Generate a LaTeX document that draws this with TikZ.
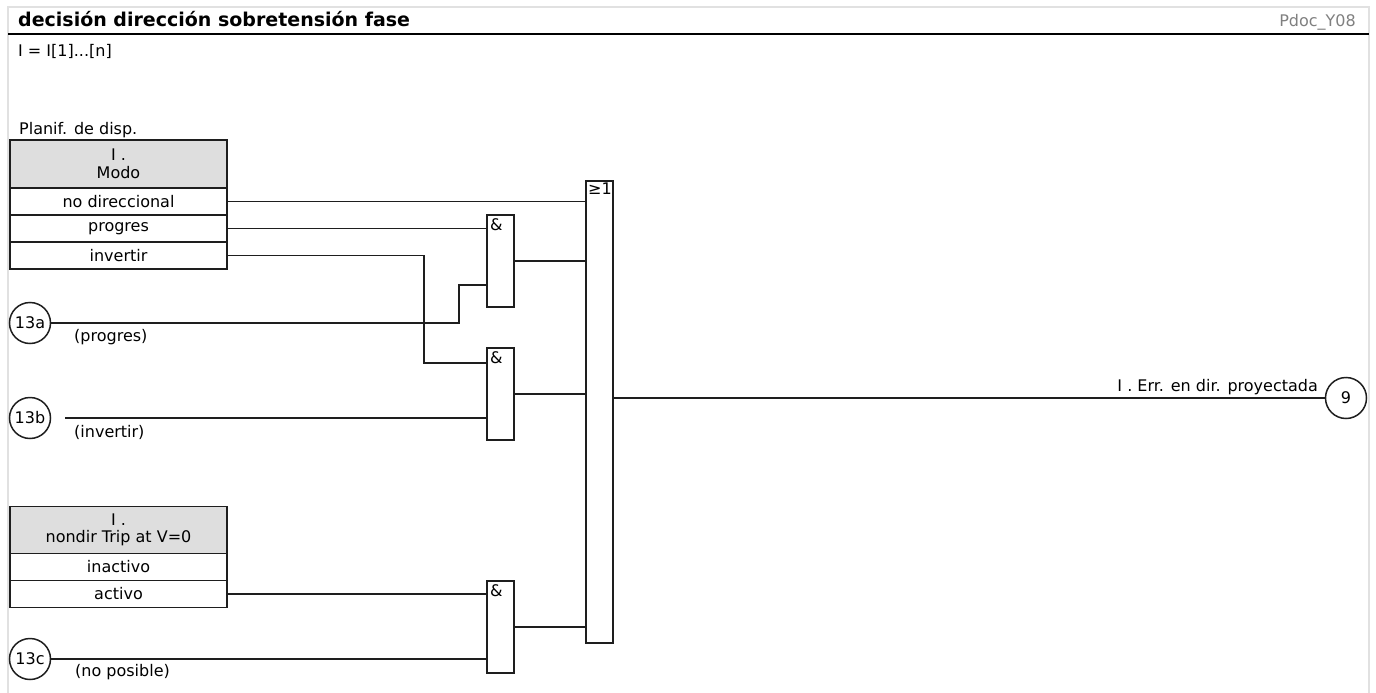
\documentclass[tikz,border=0pt]{standalone}
\usepackage{fontspec}
\setmainfont{DejaVu Sans}
\usetikzlibrary{calc}
\definecolor{hdrgray}{RGB}{222,222,222}
\definecolor{framegray}{RGB}{225,225,225}
\definecolor{wire}{RGB}{30,30,30}
\begin{document}
\begin{tikzpicture}[x=1pt,y=-1pt,
  every node/.style={font=\fontsize{16}{18.5}\selectfont, inner sep=0pt},
  hdr/.style={draw=wire, fill=hdrgray, line width=1.5pt, outer sep=0pt, minimum width=217pt, align=center},
  rowbox/.style={draw=wire, fill=white, line width=1.5pt, outer sep=0pt, minimum width=217pt, minimum height=27pt},
  gatebox/.style={draw=wire, line width=1.5pt, outer sep=0pt, minimum width=27pt},
  gatelbl/.style={anchor=north west, inner sep=3pt},
  conn/.style={draw=wire, line width=1.5pt},
  ref/.style={draw=wire, circle, line width=1.5pt, outer sep=0pt, minimum size=41pt},
  sublbl/.style={anchor=west}
]
\useasboundingbox (0,0) rectangle (1376,693);
% frame
\draw[framegray, line width=1.5pt] (8,693) -- (8,7) -- (1369,7) -- (1369,693);
\draw[black, line width=2.2pt] (8,34) -- (1369,34);
\node[anchor=base west, font=\bfseries\fontsize{19}{22}\selectfont] (title) at (18,27) {decisión dirección sobretensión fase};
\node[anchor=base east, text=gray] (pdoc) at (1356,27) {Pdoc\_Y08};
\node[anchor=base west] (idx) at (18,57) {I = I[1]...[n]};
\node[anchor=west] (planif) at (19,130) {Planif. de disp.};

% Modo box
\node[hdr, minimum height=48pt] (mh) at (118.5,164) {I .\\[-1pt]Modo};
\node[rowbox, anchor=north] (r1) at (mh.south) {no direccional};
\node[rowbox, anchor=north] (r2) at (r1.south) {progres};
\node[rowbox, anchor=north] (r3) at (r2.south) {invertir};

% nondir box
\node[hdr, minimum height=47pt] (nh) at (118.5,530) {I .\\[-1pt]nondir Trip at V=0};
\node[rowbox, anchor=north] (r5) at (nh.south) {inactivo};
\node[rowbox, anchor=north] (r6) at (r5.south) {activo};

% gates
\node[gatebox, minimum height=462pt] (or) at (599.5,412) {};
\node[gatelbl, inner sep=2pt] (orl) at (or.north west) {≥1};
\node[gatebox, minimum height=92pt] (and1) at (500.5,261) {};
\node[gatelbl] (and1l) at (and1.north west) {\&};
\node[gatebox, minimum height=92pt] (and2) at (500.5,394) {};
\node[gatelbl] (and2l) at (and2.north west) {\&};
\node[gatebox, minimum height=92pt] (and3) at (500.5,627) {};
\node[gatelbl] (and3l) at (and3.north west) {\&};

% input references
\node[ref] (c13a) at (30,323) {13a};
\node[ref] (c13b) at (30,418) {13b};
\node[ref] (c13c) at (30,659) {13c};
\node[sublbl] (l13a) at (74,337) {(progres)};
\node[sublbl] (l13b) at (74,432) {(invertir)};
\node[sublbl] (l13c) at (75,672) {(no posible)};
\coordinate (s13b) at (65,418);
\coordinate (inv) at (424,0);
\coordinate (j13a) at (459,0);

% output reference
\node[ref] (c9) at (1346,398) {9};
\node[anchor=base east] (l9) at (1318,391) {I . Err. en dir. proyectada};

% connectors
\draw[conn] (r1.east) -- (r1.east -| or.west);
\draw[conn] (r2.east) -- (r2.east -| and1.west);
\draw[conn] (c13a.east) -- (c13a.east -| j13a) |- ([yshift=-24pt]and1.west);
\draw[conn] (r3.east) -- (r3.east -| inv) |- ([yshift=31pt]and2.west);
\draw[conn] (s13b) -- (s13b -| and2.west);
\draw[conn] (r6.east) -- (r6.east -| and3.west);
\draw[conn] (c13c.east) -- (c13c.east -| and3.west);
\draw[conn] (and1.east) -- (and1.east -| or.west);
\draw[conn] (and2.east) -- (and2.east -| or.west);
\draw[conn] (and3.east) -- (and3.east -| or.west);
\draw[conn] ([yshift=14pt]or.east) -- (c9.west);
\end{tikzpicture}
\end{document}
